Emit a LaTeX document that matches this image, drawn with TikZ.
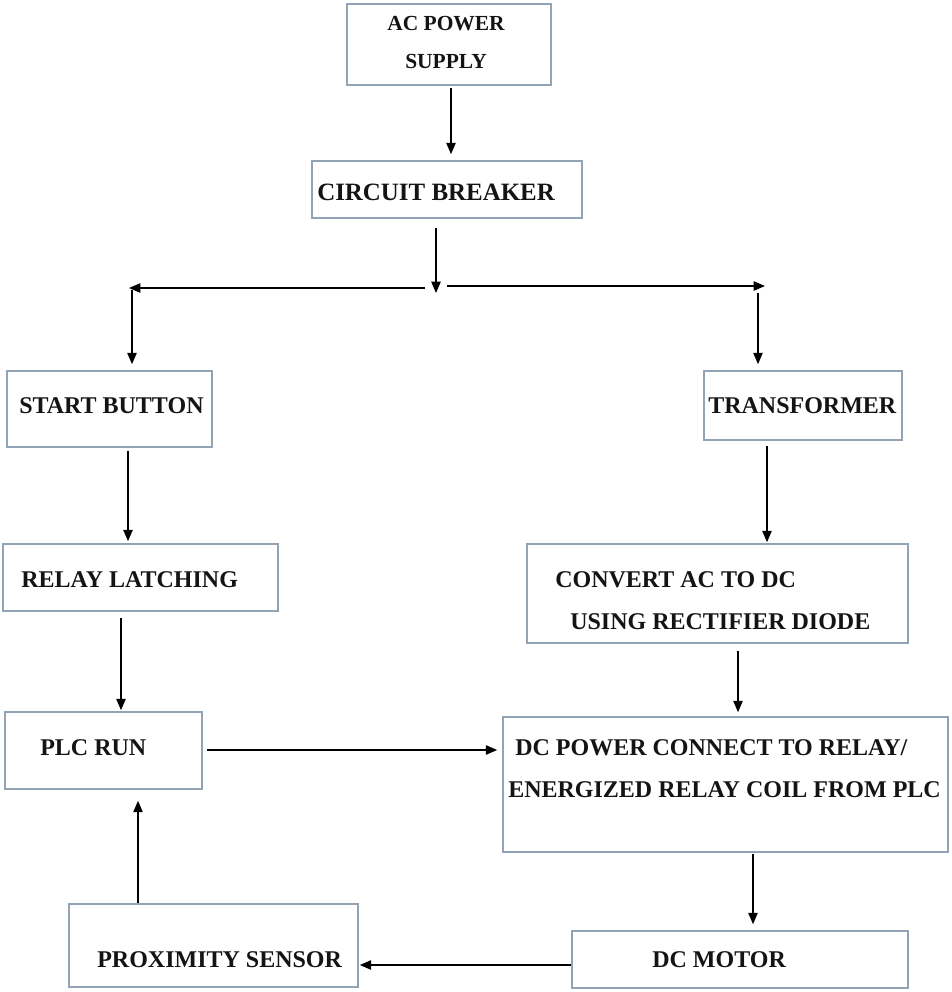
\documentclass[tikz,border=0pt]{standalone}
\usepackage{fontspec}
\setmainfont{Liberation Serif}
\usetikzlibrary{fit,arrows.meta}
\definecolor{boxc}{HTML}{93A3B6}
\definecolor{txtc}{HTML}{141414}
\tikzset{
  box/.style={draw=boxc, line width=1.2pt, inner sep=0pt, fill=white},
  lbl/.style={anchor=base west, inner sep=0pt, text=txtc, font=\bfseries\fontsize{18pt}{20pt}\selectfont},
  arr/.style={draw=black, line width=1.05pt, -{Triangle[length=8.5pt,width=7pt]}},
  seg/.style={draw=black, line width=1pt}
}
\begin{document}
\begin{tikzpicture}[x=0.75pt,y=-0.75pt]
\useasboundingbox (0,0) rectangle (951,992);
% boxes
\node[box, fit={(347,4) (551,85)}] (ac) {};
\node[box, fit={(312,161) (582,218)}] (cb) {};
\node[box, fit={(7,371) (212,447)}] (start) {};
\node[box, fit={(704,371) (902,440)}] (trans) {};
\node[box, fit={(3,544) (278,611)}] (relay) {};
\node[box, fit={(527,544) (908,643)}] (conv) {};
\node[box, fit={(5,712) (202,789)}] (plc) {};
\node[box, fit={(503,717) (948,852)}] (dcp) {};
\node[box, fit={(69,904) (358,987)}] (prox) {};
\node[box, fit={(572,931) (908,988)}] (motor) {};
% texts
\node[lbl, font=\bfseries\fontsize{16.1pt}{18pt}\selectfont] (acA) at (387,30) {AC POWER};
\node[lbl, font=\bfseries\fontsize{16.1pt}{18pt}\selectfont] (acB) at (405,68) {SUPPLY};
\node[lbl, font=\bfseries\fontsize{18.7pt}{21pt}\selectfont] (cbT) at (317,200) {CIRCUIT BREAKER};
\node[lbl] (startT) at (19,413) {START BUTTON};
\node[lbl] (transT) at (708,413) {TRANSFORMER};
\node[lbl] (relayT) at (21,587) {RELAY LATCHING};
\node[lbl] (convA) at (555,587) {CONVERT AC TO DC};
\node[lbl] (convB) at (570,629) {USING RECTIFIER DIODE};
\node[lbl] (plcT) at (40,755) {PLC RUN};
\node[lbl] (dcpA) at (515,755) {DC POWER CONNECT TO RELAY/};
\node[lbl] (dcpB) at (508,797) {ENERGIZED RELAY COIL FROM PLC};
\node[lbl] (proxT) at (97,967) {PROXIMITY SENSOR};
\node[lbl] (motorT) at (652,967) {DC MOTOR};
% junction coordinates
\coordinate (j) at (436,293);
\coordinate (jl) at (425,288);
\coordinate (l) at (129,288);
\coordinate (ld) at (132,290);
\coordinate (jr) at (447,286);
\coordinate (r) at (765,286);
\coordinate (rd) at (758,293);
% connectors
\draw[arr, shorten <=1.5pt, shorten >=4.5pt] (ac.south -| 451,0) -- (cb.north -| 451,0);
\draw[arr, shorten <=6.75pt] (cb.south -| 436,0) -- (j);
\draw[arr] (jl) -- (l);
\draw[arr] (jr) -- (r);
\draw[arr, shorten >=4.5pt] (ld) -- (start.north -| 132,0);
\draw[arr, shorten >=4.5pt] (rd) -- (trans.north -| 758,0);
\draw[arr, shorten <=2.25pt, shorten >=1.5pt] (start.south -| 128,0) -- (relay.north -| 128,0);
\draw[arr, shorten <=4.5pt, shorten >=0.75pt] (relay.south -| 121,0) -- (plc.north -| 121,0);
\draw[arr, shorten <=3.75pt, shorten >=0.75pt] (trans.south -| 767,0) -- (conv.north -| 767,0);
\draw[arr, shorten <=5.25pt, shorten >=3pt] (conv.south -| 738,0) -- (dcp.north -| 738,0);
\draw[arr, shorten <=3pt, shorten >=3.75pt] (plc.east |- 0,750) -- (dcp.west |- 0,750);
\draw[arr, shorten <=0.75pt, shorten >=4.5pt] (dcp.south -| 753,0) -- (motor.north -| 753,0);
\draw[arr, shorten >=0.75pt] (motor.west |- 0,965) -- (prox.east |- 0,965);
\draw[arr, shorten >=8.25pt] (prox.north -| 138,0) -- (plc.south -| 138,0);
\end{tikzpicture}
\end{document}
